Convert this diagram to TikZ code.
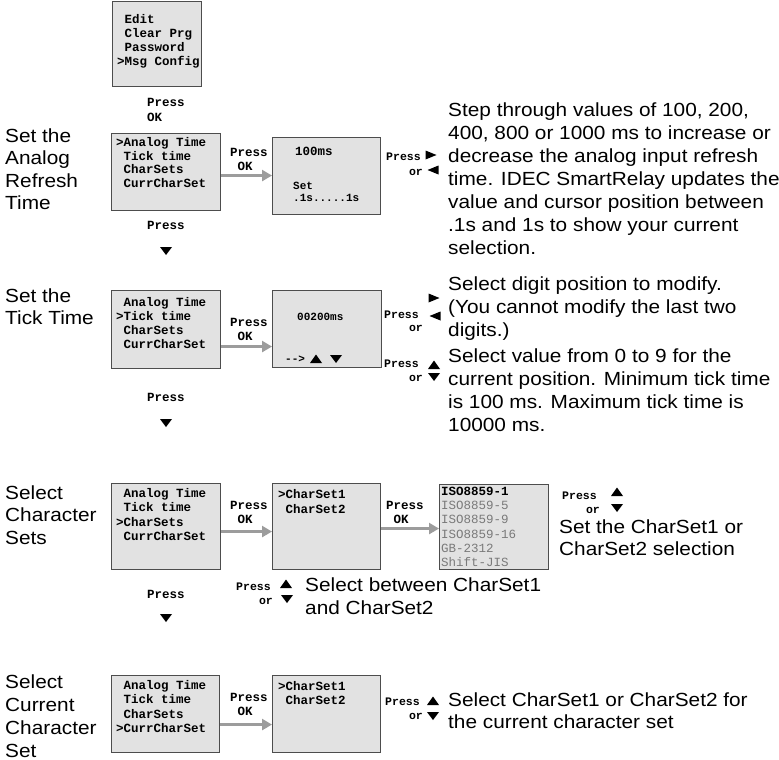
\documentclass[tikz,border=0pt]{standalone}
\usepackage{fontspec}
\setmainfont{Liberation Sans}
\newfontfamily\lblfont[FakeStretch=1.095]{Liberation Sans}
\newfontfamily\monofont{Liberation Mono}
\usetikzlibrary{arrows.meta}
\definecolor{boxfill}{HTML}{E2E2E2}
\definecolor{boxline}{HTML}{4D4D4D}
\definecolor{arrowgray}{HTML}{9C9C9C}
\definecolor{isogray}{HTML}{7A7A7A}
\tikzset{
  lcd/.style={draw=boxline, fill=boxfill, line width=1.1pt, inner sep=0pt, anchor=north west},
  lcdtext/.style={font=\monofont\bfseries\fontsize{12.5}{14}\selectfont, align=left, anchor=base west, inner sep=0pt},
  pr/.style={font=\monofont\bfseries\fontsize{12.5}{14}\selectfont, align=left, anchor=base west, inner sep=0pt},
  prs/.style={font=\monofont\bfseries\fontsize{11.5}{13}\selectfont, inner sep=0pt},
  lbl/.style={font=\lblfont\fontsize{19}{22.6}\selectfont, align=left, anchor=base west, inner sep=0pt},
  desc/.style={font=\lblfont\fontsize{19}{23}\selectfont, align=left, anchor=base west, inner sep=0pt},
  flow/.style={draw=arrowgray, line width=3.5pt, -{Triangle[length=10pt,width=11pt]}},
  tdn/.pic={\fill (-6,-4) -- (6,-4) -- (0,4) -- cycle;},
  tup/.pic={\fill (-6,4) -- (6,4) -- (0,-4.5) -- cycle;},
  trt/.pic={\fill (-5.5,-4.5) -- (5.5,0) -- (-5.5,4.5) -- cycle;},
  tlt/.pic={\fill (5.5,-4.5) -- (-5.5,0) -- (5.5,4.5) -- cycle;},
}
\newcommand{\lead}{\hphantom{>}}
\begin{document}
\begin{tikzpicture}[x=1pt,y=-1pt]
\useasboundingbox (0,0) rectangle (779,760);

% ---- top menu
\node[lcd, minimum width=89pt, minimum height=85pt] (b0) at (112,1) {};
\node[lcdtext] (t0) at (117,65.5) {\lead Edit\\\lead Clear Prg\\\lead Password\\>Msg Config};
\node[pr, font=\monofont\bfseries\fontsize{12.5}{14.5}\selectfont] (p0) at (147,121) {Press\\OK};

% ---- row 1
\node[lbl] (l1) at (5,209.8) {Set the\\Analog\\Refresh\\Time};
\node[lcd, minimum width=109pt, minimum height=77pt] (r1l) at (111,133) {};
\node[lcdtext, font=\monofont\bfseries\fontsize{12.5}{13.7}\selectfont] (r1lt) at (116,187.6) {>Analog Time\\\lead Tick time\\\lead CharSets\\\lead CurrCharSet};
\node[lcd, minimum width=108pt, minimum height=77pt] (r1r) at (272,137) {};
\node[lcdtext] (r1rt) at (295,155.5) {100ms};
\node[lcdtext, font=\monofont\bfseries\fontsize{11}{12}\selectfont] (r1rs) at (293,201.5) {Set\\.1s.....1s};
\draw[flow] ([yshift=-3.5pt]r1l.east) coordinate (a1s) -- (a1s -| r1r.west);
\node[pr] (p1) at (230,170.5) {Press\\\lead OK};
\node[pr, anchor=base] (d1) at (166,229.5) {Press};
\pic at (166,251) {tdn};
\node[prs, anchor=base west] (q1a) at (386,160) {Press};
\node[prs, anchor=base east] (q1b) at (423,175) {or};
\pic at (431,155) {trt};
\pic at (433,170) {tlt};
\node[desc] (x1) at (448,254) {Step through values of 100, 200,\\400, 800 or 1000 ms to increase or\\decrease the analog input refresh\\time. IDEC SmartRelay updates the\\value and cursor position between\\.1s and 1s to show your current\\selection.};

% ---- row 2
\node[lbl] (l2) at (5,324.6) {Set the\\Tick Time};
\node[lcd, minimum width=109pt, minimum height=78pt] (r2l) at (111,290) {};
\node[lcdtext] (r2lt) at (116,348.5) {\lead Analog Time\\>Tick time\\\lead CharSets\\\lead CurrCharSet};
\node[lcd, minimum width=109pt, minimum height=77pt] (r2r) at (272,290) {};
\node[lcdtext, font=\monofont\bfseries\fontsize{11}{12}\selectfont] (r2rt) at (297,320.5) {00200ms};
\node[lcdtext, font=\monofont\bfseries\fontsize{11}{12}\selectfont] (r2rs) at (285,362) {-{}->};
\pic at (316,359) {tup};
\pic at (336,359) {tdn};
\draw[flow] ([yshift=-17pt]r2l.east) coordinate (a2s) -- (a2s -| r2r.west);
\node[pr] (p2) at (230,340.5) {Press\\\lead OK};
\node[pr, anchor=base] (d2) at (166,401.5) {Press};
\pic at (166,423) {tdn};
\pic at (434,298) {trt};
\node[prs, anchor=base west] (q2a) at (384,318.5) {Press};
\pic at (435,316) {tlt};
\node[prs, anchor=base east] (q2b) at (423,331.5) {or};
\node[prs, anchor=base west] (q2c) at (384,367) {Press};
\pic at (434,365) {tup};
\node[prs, anchor=base east] (q2d) at (423,381) {or};
\pic at (434,377) {tdn};
\node[desc] (x2a) at (448,336) {Select digit position to modify.\\(You cannot modify the last two\\digits.)};
\node[desc] (x2b) at (448,431) {Select value from 0 to 9 for the\\current position. Minimum tick time\\is 100 ms. Maximum tick time is\\10000 ms.};

% ---- row 3
\node[lbl] (l3) at (5,544.2) {Select\\Character\\Sets};
\node[lcd, minimum width=109pt, minimum height=86pt] (r3l) at (111,483) {};
\node[lcdtext, font=\monofont\bfseries\fontsize{12.5}{14.3}\selectfont] (r3lt) at (116,540.4) {\lead Analog Time\\\lead Tick time\\>CharSets\\\lead CurrCharSet};
\node[lcd, minimum width=108pt, minimum height=86pt] (r3m) at (272,483) {};
\node[lcdtext, font=\monofont\bfseries\fontsize{12.5}{15}\selectfont] (r3mt) at (278,513.5) {>CharSet1\\\lead CharSet2};
\node[lcd, minimum width=109pt, minimum height=85pt] (r3r) at (439,484) {};
\node[lcdtext, font=\monofont\fontsize{12.5}{14.2}\selectfont] (r3rt) at (441,566.5) {\textbf{ISO8859-1}\\\textcolor{isogray}{ISO8859-5}\\\textcolor{isogray}{ISO8859-9}\\\textcolor{isogray}{ISO8859-16}\\\textcolor{isogray}{GB-2312}\\\textcolor{isogray}{Shift-JIS}};
\draw[flow] ([yshift=-5pt]r3l.east) coordinate (a3s) -- (a3s -| r3m.west);
\draw[flow] ([yshift=-2pt]r3m.east) coordinate (a3t) -- (a3t -| r3r.west);
\node[pr] (p3a) at (230,523.5) {Press\\\lead OK};
\node[pr] (p3b) at (386,523.5) {Press\\\lead OK};
\node[prs, anchor=base west] (q3a) at (562,499) {Press};
\pic at (617,492) {tup};
\node[prs, anchor=base east] (q3b) at (600,513) {or};
\pic at (617,508) {tdn};
\node[desc, font=\lblfont\fontsize{19}{22}\selectfont] (x3a) at (559,555) {Set the CharSet1 or\\CharSet2 selection};
\node[prs, anchor=base west] (q3c) at (236,590) {Press};
\pic at (286,584) {tup};
\node[prs, anchor=base east] (q3d) at (273,604) {or};
\pic at (287,599) {tdn};
\node[desc] (x3b) at (305,614) {Select between CharSet1\\and CharSet2};
\node[pr, anchor=base] (d3) at (166,598.5) {Press};
\pic at (166,618) {tdn};

% ---- row 4
\node[lbl, font=\lblfont\fontsize{19}{23}\selectfont] (l4) at (5,757) {Select\\Current\\Character\\Set};
\node[lcd, minimum width=108pt, minimum height=77pt] (r4l) at (111,675) {};
\node[lcdtext, font=\monofont\bfseries\fontsize{12.5}{14.3}\selectfont] (r4lt) at (116,732.4) {\lead Analog Time\\\lead Tick time\\\lead CharSets\\>CurrCharSet};
\node[lcd, minimum width=108pt, minimum height=77pt] (r4m) at (272,675) {};
\node[lcdtext] (r4mt) at (278,704.5) {>CharSet1\\\lead CharSet2};
\draw[flow] ([yshift=-10.5pt]r4l.east) coordinate (a4s) -- (a4s -| r4m.west);
\node[pr] (p4) at (230,715.5) {Press\\\lead OK};
\node[prs, anchor=base west] (q4a) at (385,705) {Press};
\pic at (433,701) {tup};
\node[prs, anchor=base east] (q4b) at (423,719) {or};
\pic at (433,716) {tdn};
\node[desc, font=\lblfont\fontsize{19}{22.5}\selectfont] (x4) at (448,728.5) {Select CharSet1 or CharSet2 for\\the current character set};
\end{tikzpicture}
\end{document}
